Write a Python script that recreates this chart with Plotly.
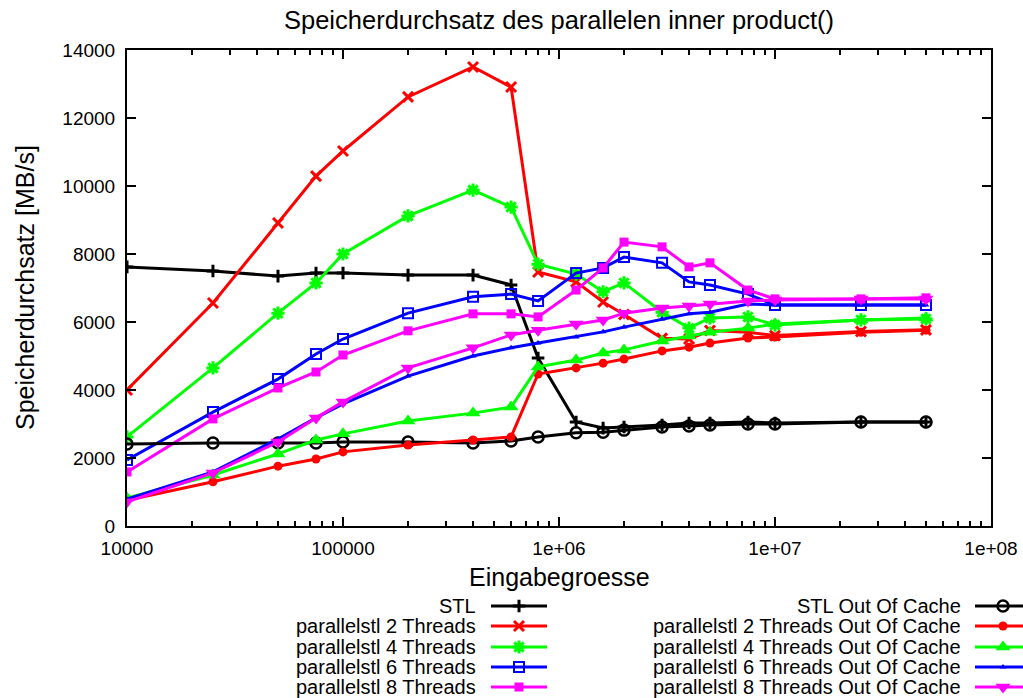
import plotly.graph_objects as go

# Eingabegroessen (Anzahl Elemente)
sizes = [10000, 25000, 50000, 75000, 100000, 200000, 400000, 600000, 800000,
         1200000, 1600000, 2000000, 3000000, 4000000, 5000000, 7500000,
         10000000, 25000000, 50000000]

# Speicherdurchsatz in MB/s
stl = [7620, 7500, 7350, 7440, 7440, 7380, 7380, 7090, 4940,
       3060, 2880, 2910, 2970, 3030, 3030, 3060, 3030, 3060, 3060]
pstl_2 = [4000, 6560, 8910, 10290, 11030, 12620, 13500, 12910, 7470,
          7180, 6590, 6220, 5520, 5500, 5750, 5700, 5600, 5720, 5770]
pstl_4 = [2620, 4650, 6260, 7150, 8000, 9120, 9880, 9380, 7700,
          7410, 6890, 7150, 6290, 5820, 6120, 6150, 5910, 6060, 6090]
pstl_6 = [1940, 3350, 4320, 5060, 5500, 6260, 6740, 6820, 6620,
          7440, 7590, 7910, 7740, 7180, 7090, 6820, 6500, 6500, 6500]
pstl_8 = [1590, 3150, 4060, 4530, 5030, 5740, 6240, 6240, 6150,
          6940, 7590, 8350, 8210, 7620, 7740, 6940, 6680, 6680, 6710]
stl_ooc = [2410, 2440, 2440, 2440, 2470, 2470, 2440, 2500, 2620,
           2740, 2760, 2820, 2910, 2940, 2970, 3000, 3000, 3060, 3060]
pstl_2_ooc = [760, 1300, 1760, 1970, 2180, 2380, 2530, 2620, 4470,
              4650, 4790, 4910, 5150, 5260, 5380, 5530, 5560, 5700, 5760]
pstl_4_ooc = [820, 1500, 2120, 2530, 2710, 3090, 3320, 3500, 4680,
              4880, 5090, 5180, 5440, 5590, 5700, 5820, 5940, 6060, 6120]
pstl_6_ooc = [790, 1590, 2560, 3180, 3590, 4410, 5000, 5240, 5380,
              5560, 5710, 5850, 6090, 6240, 6290, 6530, 6500, 6500, 6500]
pstl_8_ooc = [710, 1560, 2470, 3180, 3650, 4650, 5240, 5620, 5760,
              5940, 6060, 6260, 6410, 6470, 6530, 6620, 6650, 6680, 6680]

series_names = ["STL", "parallelstl 2 Threads", "parallelstl 4 Threads",
                "parallelstl 6 Threads", "parallelstl 8 Threads",
                "STL Out Of Cache", "parallelstl 2 Threads Out Of Cache",
                "parallelstl 4 Threads Out Of Cache",
                "parallelstl 6 Threads Out Of Cache",
                "parallelstl 8 Threads Out Of Cache"]
series_values = [stl, pstl_2, pstl_4, pstl_6, pstl_8,
                 stl_ooc, pstl_2_ooc, pstl_4_ooc, pstl_6_ooc, pstl_8_ooc]

x_tickvals = [1e4, 1e5, 1e6, 1e7, 1e8]
x_ticktext = ["10000", "100000", "1e+06", "1e+07", "1e+08"]
y_tickvals = [0, 2000, 4000, 6000, 8000, 10000, 12000, 14000]
y_ticktext = ["0", "2000", "4000", "6000", "8000", "10000", "12000", "14000"]

# line/marker style per series (gnuplot-like point types)
colors = ["#000000", "#ff0000", "#00ff00", "#0000ff", "#ff00ff"] * 2
symbols = ["cross-thin-open", "x-thin-open", "asterisk-open", "square-open", "square",
           "circle-open", "circle", "triangle-up", "triangle-up", "triangle-down"]
msizes = [9, 10, 11, 10, 9, 11, 9, 13, 6, 13]
mlw = [3, 3, 3, 2, 0, 2.5, 0, 0, 0, 0]

W, H = 1023, 698
PX0, PX1, PY0, PY1 = 127, 991, 50, 526   # plot area in pixels
FONT = "Liberation Sans, Arial, sans-serif"

fig = go.Figure()

for name, vals, c, s, ms, lw in zip(series_names, series_values, colors, symbols, msizes, mlw):
    fig.add_trace(go.Scatter(
        x=sizes, y=vals, name=name, mode="lines+markers",
        line=dict(color=c, width=3),
        marker=dict(symbol=s, size=ms, color=c, line=dict(color=c, width=lw)),
        showlegend=False, xaxis="x", yaxis="y",
    ))

# key entries: two columns, text right-aligned in front of a short sample line
row_y = [606, 626, 647, 667, 687]
columns = [dict(text_right=478, line0=491, line1=547),
           dict(text_right=963, line0=975, line1=1031)]
annotations = []
for i, (name, c, s, ms, lw) in enumerate(zip(series_names, colors, symbols, msizes, mlw)):
    col = columns[i // 5]
    yy = row_y[i % 5]
    xm = (col["line0"] + col["line1"]) / 2
    fig.add_trace(go.Scatter(
        x=[col["line0"], col["line1"]], y=[yy, yy], mode="lines",
        line=dict(color=c, width=3), showlegend=False, hoverinfo="skip",
        xaxis="x2", yaxis="y2", cliponaxis=False,
    ))
    fig.add_trace(go.Scatter(
        x=[xm], y=[yy], mode="markers",
        marker=dict(symbol=s, size=ms, color=c, line=dict(color=c, width=lw)),
        showlegend=False, hoverinfo="skip", xaxis="x2", yaxis="y2", cliponaxis=False,
    ))
    annotations.append(dict(
        x=col["text_right"] / W, y=1 - yy / H, xref="paper", yref="paper",
        text=name, showarrow=False, xanchor="right", yanchor="middle",
        font=dict(family=FONT, size=20, color="black"),
    ))

annotations.append(dict(
    x=(PX0 + PX1) / 2 / W, y=1 - 20 / H, xref="paper", yref="paper",
    text="Speicherdurchsatz des parallelen inner product()", showarrow=False,
    xanchor="center", yanchor="middle", font=dict(family=FONT, size=25.5, color="black"),
))
annotations.append(dict(
    x=(PX0 + PX1) / 2 / W, y=1 - 577 / H, xref="paper", yref="paper",
    text="Eingabegroesse", showarrow=False,
    xanchor="center", yanchor="middle", font=dict(family=FONT, size=25, color="black"),
))
annotations.append(dict(
    x=25 / W, y=1 - (PY0 + PY1) / 2 / H, xref="paper", yref="paper",
    text="Speicherdurchsatz [MB/s]", showarrow=False, textangle=-90,
    xanchor="center", yanchor="middle", font=dict(family=FONT, size=25, color="black"),
))

minor_vals = [m * 10 ** e for e in range(4, 8) for m in range(2, 10)]

fig.update_layout(
    width=W, height=H, autosize=False, template="none",
    margin=dict(l=0, r=0, t=0, b=0, pad=0),
    paper_bgcolor="white", plot_bgcolor="rgba(0,0,0,0)",
    font=dict(family=FONT, size=19, color="black"),
    annotations=annotations,
    xaxis=dict(
        type="log", range=[4, 8], domain=[PX0 / W, PX1 / W], anchor="y",
        tickmode="array", tickvals=x_tickvals, ticktext=x_ticktext,
        ticks="inside", ticklen=9, tickwidth=1.5, tickcolor="black",
        ticklabelstandoff=4,
        showline=True, linecolor="black", linewidth=2, mirror="allticks",
        showgrid=False, zeroline=False, automargin=False,
        tickfont=dict(family=FONT, size=19, color="black"),
        minor=dict(tickmode="array", tickvals=minor_vals, ticks="inside",
                   ticklen=5, tickwidth=1.5, tickcolor="black", showgrid=False),
    ),
    yaxis=dict(
        range=[0, 14000], domain=[1 - PY1 / H, 1 - PY0 / H], anchor="x",
        tickmode="array", tickvals=y_tickvals, ticktext=y_ticktext,
        ticks="inside", ticklen=9, tickwidth=1.5, tickcolor="black",
        ticklabelstandoff=6,
        showline=True, linecolor="black", linewidth=2, mirror="allticks",
        showgrid=False, zeroline=False, automargin=False,
        tickfont=dict(family=FONT, size=19, color="black"),
    ),
    xaxis2=dict(domain=[0, 1], range=[0, W], anchor="y2", visible=False,
                fixedrange=True, automargin=False),
    yaxis2=dict(domain=[0, 1], range=[H, 0], anchor="x2", visible=False,
                fixedrange=True, automargin=False),
)

fig.write_html("out.html")
